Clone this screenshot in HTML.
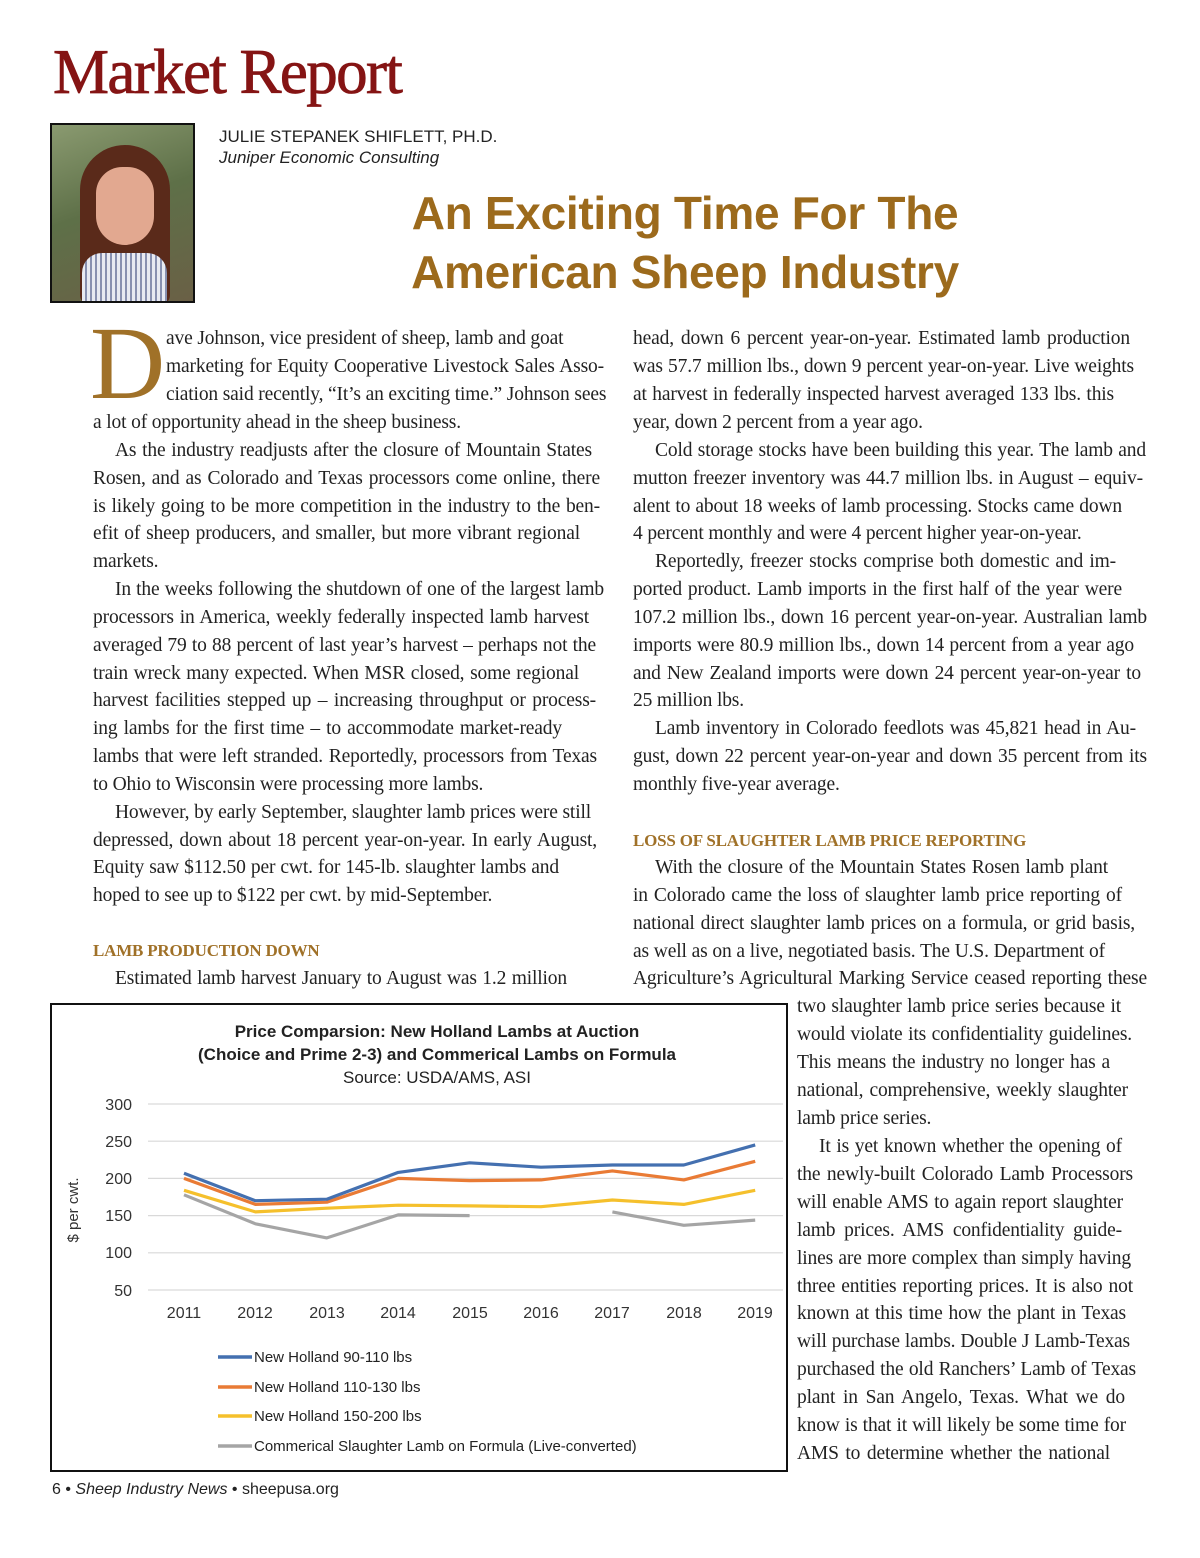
<!DOCTYPE html>
<html><head><meta charset="utf-8"><style>
body{margin:0;background:#fff;}
#p{position:relative;width:1200px;height:1558px;overflow:hidden;background:#fff;font-family:"Liberation Serif",serif;color:#222;}
.l{position:absolute;white-space:nowrap;font-size:19.5px;line-height:24px;letter-spacing:-0.15px;text-align:justify;text-align-last:justify;overflow:visible;}
.n{text-align-last:left;}
.h{position:absolute;white-space:nowrap;font-size:17px;line-height:24px;font-weight:bold;color:#a07128;letter-spacing:-0.2px;}
</style></head><body><div id="p">
<div style="position:absolute;left:53px;top:36px;font-size:63px;line-height:72px;color:#851414;letter-spacing:-1.6px;-webkit-text-stroke:0.8px #851414;">Market Report</div>
<div style="position:absolute;left:50px;top:123px;width:141px;height:176px;border:2px solid #111;overflow:hidden;background:linear-gradient(160deg,#8a9a70,#5e7048 45%,#6a6046);">
 <div style="position:absolute;left:28px;top:20px;width:90px;height:160px;border-radius:45px 45px 10px 10px;background:#5a2a1a;"></div>
 <div style="position:absolute;left:44px;top:42px;width:58px;height:78px;border-radius:29px 29px 32px 32px;background:#e2a890;"></div>
 <div style="position:absolute;left:30px;top:128px;width:85px;height:60px;border-radius:20px 20px 0 0;background:repeating-linear-gradient(90deg,#e8eaf2 0 3px,#8890b0 3px 5px);"></div>
</div>
<div style="position:absolute;left:219px;top:126px;font-family:'Liberation Sans',sans-serif;font-size:17px;line-height:21px;color:#222;">JULIE STEPANEK SHIFLETT, PH.D.<br><i>Juniper Economic Consulting</i></div>
<div style="position:absolute;left:380px;top:184px;width:610px;text-align:center;font-family:'Liberation Sans',sans-serif;font-weight:bold;font-size:46px;line-height:59px;color:#9c6a1c;letter-spacing:-0.3px;">An Exciting Time For The<br>American Sheep Industry</div>

<div style="position:absolute;left:90px;top:312px;font-size:104px;line-height:104px;color:#a07128;">D</div>
<div class="l n" style="left:166px;top:327px;">ave Johnson, vice president of sheep, lamb and goat</div>
<div class="l" style="left:166px;top:355px;width:438px;">marketing for Equity Cooperative Livestock Sales Asso-</div>
<div class="l" style="left:166px;top:383px;width:438px;">ciation said recently, “It’s an exciting time.” Johnson sees</div>
<div class="l n" style="left:93px;top:411px;">a lot of opportunity ahead in the sheep business.</div>
<div class="l" style="left:115px;top:439px;width:477px;">As the industry readjusts after the closure of Mountain States</div>
<div class="l" style="left:93px;top:467px;width:507px;">Rosen, and as Colorado and Texas processors come online, there</div>
<div class="l" style="left:93px;top:495px;width:507px;">is likely going to be more competition in the industry to the ben-</div>
<div class="l" style="left:93px;top:522px;width:487px;">efit of sheep producers, and smaller, but more vibrant regional</div>
<div class="l n" style="left:93px;top:550px;">markets.</div>
<div class="l" style="left:115px;top:578px;width:489px;">In the weeks following the shutdown of one of the largest lamb</div>
<div class="l" style="left:93px;top:606px;width:496px;">processors in America, weekly federally inspected lamb harvest</div>
<div class="l" style="left:93px;top:634px;width:503px;">averaged 79 to 88 percent of last year’s harvest – perhaps not the</div>
<div class="l" style="left:93px;top:662px;width:486px;">train wreck many expected. When MSR closed, some regional</div>
<div class="l" style="left:93px;top:689px;width:503px;">harvest facilities stepped up – increasing throughput or process-</div>
<div class="l" style="left:93px;top:717px;width:469px;">ing lambs for the first time – to accommodate market-ready</div>
<div class="l" style="left:93px;top:745px;width:504px;">lambs that were left stranded. Reportedly, processors from Texas</div>
<div class="l n" style="left:93px;top:773px;">to Ohio to Wisconsin were processing more lambs.</div>
<div class="l" style="left:115px;top:801px;width:476px;">However, by early September, slaughter lamb prices were still</div>
<div class="l" style="left:93px;top:829px;width:504px;">depressed, down about 18 percent year-on-year. In early August,</div>
<div class="l" style="left:93px;top:856px;width:466px;">Equity saw $112.50 per cwt. for 145-lb. slaughter lambs and</div>
<div class="l n" style="left:93px;top:884px;">hoped to see up to $122 per cwt. by mid-September.</div>
<div class="h" style="left:93px;top:939px;">LAMB PRODUCTION DOWN</div>
<div class="l" style="left:115px;top:967px;width:452px;">Estimated lamb harvest January to August was 1.2 million</div>

<div class="l" style="left:633px;top:327px;width:497px;">head, down 6 percent year-on-year. Estimated lamb production</div>
<div class="l" style="left:633px;top:355px;width:501px;">was 57.7 million lbs., down 9 percent year-on-year. Live weights</div>
<div class="l" style="left:633px;top:383px;width:481px;">at harvest in federally inspected harvest averaged 133 lbs. this</div>
<div class="l n" style="left:633px;top:411px;">year, down 2 percent from a year ago.</div>
<div class="l" style="left:655px;top:439px;width:491px;">Cold storage stocks have been building this year. The lamb and</div>
<div class="l" style="left:633px;top:467px;width:510px;">mutton freezer inventory was 44.7 million lbs. in August – equiv-</div>
<div class="l" style="left:633px;top:495px;width:489px;">alent to about 18 weeks of lamb processing. Stocks came down</div>
<div class="l n" style="left:633px;top:522px;">4 percent monthly and were 4 percent higher year-on-year.</div>
<div class="l" style="left:655px;top:550px;width:461px;">Reportedly, freezer stocks comprise both domestic and im-</div>
<div class="l" style="left:633px;top:578px;width:489px;">ported product. Lamb imports in the first half of the year were</div>
<div class="l" style="left:633px;top:606px;width:514px;">107.2 million lbs., down 16 percent year-on-year. Australian lamb</div>
<div class="l" style="left:633px;top:634px;width:501px;">imports were 80.9 million lbs., down 14 percent from a year ago</div>
<div class="l" style="left:633px;top:662px;width:508px;">and New Zealand imports were down 24 percent year-on-year to</div>
<div class="l n" style="left:633px;top:689px;">25 million lbs.</div>
<div class="l" style="left:655px;top:717px;width:481px;">Lamb inventory in Colorado feedlots was 45,821 head in Au-</div>
<div class="l" style="left:633px;top:745px;width:514px;">gust, down 22 percent year-on-year and down 35 percent from its</div>
<div class="l n" style="left:633px;top:773px;">monthly five-year average.</div>
<div class="h" style="left:633px;top:829px;">LOSS OF SLAUGHTER LAMB PRICE REPORTING</div>
<div class="l" style="left:655px;top:856px;width:453px;">With the closure of the Mountain States Rosen lamb plant</div>
<div class="l" style="left:633px;top:884px;width:489px;">in Colorado came the loss of slaughter lamb price reporting of</div>
<div class="l" style="left:633px;top:912px;width:502px;">national direct slaughter lamb prices on a formula, or grid basis,</div>
<div class="l" style="left:633px;top:940px;width:472px;">as well as on a live, negotiated basis. The U.S. Department of</div>
<div class="l" style="left:633px;top:967px;width:514px;">Agriculture’s Agricultural Marking Service ceased reporting these</div>
<div class="l" style="left:797px;top:995px;width:324px;">two slaughter lamb price series because it</div>
<div class="l" style="left:797px;top:1023px;width:335px;">would violate its confidentiality guidelines.</div>
<div class="l" style="left:797px;top:1051px;width:313px;">This means the industry no longer has a</div>
<div class="l" style="left:797px;top:1079px;width:331px;">national, comprehensive, weekly slaughter</div>
<div class="l n" style="left:797px;top:1107px;">lamb price series.</div>
<div class="l" style="left:819px;top:1135px;width:303px;">It is yet known whether the opening of</div>
<div class="l" style="left:797px;top:1163px;width:336px;">the newly-built Colorado Lamb Processors</div>
<div class="l" style="left:797px;top:1191px;width:326px;">will enable AMS to again report slaughter</div>
<div class="l" style="left:797px;top:1219px;width:325px;">lamb prices. AMS confidentiality guide-</div>
<div class="l" style="left:797px;top:1247px;width:334px;">lines are more complex than simply having</div>
<div class="l" style="left:797px;top:1275px;width:336px;">three entities reporting prices. It is also not</div>
<div class="l" style="left:797px;top:1302px;width:329px;">known at this time how the plant in Texas</div>
<div class="l" style="left:797px;top:1330px;width:333px;">will purchase lambs. Double J Lamb-Texas</div>
<div class="l" style="left:797px;top:1358px;width:339px;">purchased the old Ranchers’ Lamb of Texas</div>
<div class="l" style="left:797px;top:1386px;width:328px;">plant in San Angelo, Texas. What we do</div>
<div class="l" style="left:797px;top:1414px;width:329px;">know is that it will likely be some time for</div>
<div class="l" style="left:797px;top:1442px;width:313px;">AMS to determine whether the national</div>

<div style="position:absolute;left:50px;top:1003px;width:734px;height:465px;border:2px solid #111;"></div>
<svg style="position:absolute;left:0;top:0" width="1200" height="1558" font-family="'Liberation Sans Narrow','Liberation Sans',sans-serif">
<g text-anchor="middle" fill="#222" font-size="17">
<text x="437" y="1037" font-weight="bold">Price Comparsion: New Holland Lambs at Auction</text>
<text x="437" y="1060" font-weight="bold">(Choice and Prime 2-3) and Commerical Lambs on Formula</text>
<text x="437" y="1083">Source: USDA/AMS, ASI</text>
</g>
<g stroke="#d9d9d9" stroke-width="1.2">
<line x1="148" x2="783" y1="1104" y2="1104"/><line x1="148" x2="783" y1="1141.2" y2="1141.2"/><line x1="148" x2="783" y1="1178.4" y2="1178.4"/><line x1="148" x2="783" y1="1215.6" y2="1215.6"/><line x1="148" x2="783" y1="1252.8" y2="1252.8"/><line x1="148" x2="783" y1="1290" y2="1290"/>
</g>
<g text-anchor="end" font-size="16" fill="#333">
<text x="132" y="1110">300</text><text x="132" y="1147">250</text><text x="132" y="1184">200</text><text x="132" y="1221">150</text><text x="132" y="1258">100</text><text x="132" y="1296">50</text>
</g>
<g text-anchor="middle" font-size="16" fill="#333">
<text x="184" y="1318">2011</text><text x="255" y="1318">2012</text><text x="327" y="1318">2013</text><text x="398" y="1318">2014</text><text x="470" y="1318">2015</text><text x="541" y="1318">2016</text><text x="612" y="1318">2017</text><text x="684" y="1318">2018</text><text x="755" y="1318">2019</text>
</g>
<text transform="translate(78,1210) rotate(-90)" text-anchor="middle" font-size="15" fill="#333">$ per cwt.</text>
<g fill="none" stroke-width="3.2" stroke-linejoin="round">
<polyline stroke="#a5a5a5" points="184,1194.8 255.4,1223.8 326.8,1237.9 398.2,1214.9 469.6,1215.6"/>
<polyline stroke="#a5a5a5" points="612.4,1211.9 683.8,1225.3 755.2,1220.1"/>
<polyline stroke="#f5c02c" points="184,1190.3 255.4,1211.9 326.8,1208.2 398.2,1205.2 469.6,1205.9 541,1206.7 612.4,1200 683.8,1204.4 755.2,1190.3"/>
<polyline stroke="#e97b35" points="184,1178.4 255.4,1204.4 326.8,1202.2 398.2,1178.4 469.6,1180.6 541,1179.9 612.4,1170.9 683.8,1179.9 755.2,1161.3"/>
<polyline stroke="#4470b0" points="184,1173.2 255.4,1200.7 326.8,1199.2 398.2,1172.4 469.6,1162.8 541,1167.2 612.4,1165 683.8,1165 755.2,1144.9"/>
</g>
<g stroke-width="3.5">
<line x1="218" x2="252" y1="1357" y2="1357" stroke="#4470b0"/>
<line x1="218" x2="252" y1="1387" y2="1387" stroke="#e97b35"/>
<line x1="218" x2="252" y1="1416" y2="1416" stroke="#f5c02c"/>
<line x1="218" x2="252" y1="1446" y2="1446" stroke="#a5a5a5"/>
</g>
<g font-size="15" fill="#222">
<text x="254" y="1362">New Holland 90-110 lbs</text>
<text x="254" y="1392">New Holland 110-130 lbs</text>
<text x="254" y="1421">New Holland 150-200 lbs</text>
<text x="254" y="1451">Commerical Slaughter Lamb on Formula (Live-converted)</text>
</g>
</svg>
<div style="position:absolute;left:52px;top:1479px;font-family:'Liberation Sans',sans-serif;font-size:16px;line-height:22px;color:#222;">6 • <i>Sheep Industry News</i> • sheepusa.org</div>
</div></body></html>
